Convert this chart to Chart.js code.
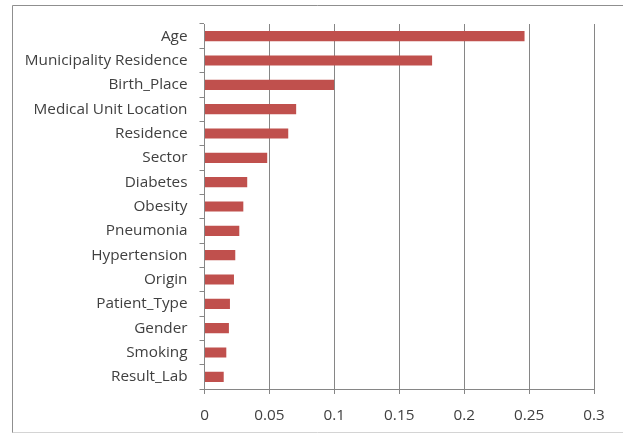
<!DOCTYPE html>
<html>
<head>
<meta charset="utf-8">
<script src="https://cdn.jsdelivr.net/npm/chart.js@4/dist/chart.umd.min.js"></script>
<style>
  html, body { margin: 0; padding: 0; background: #fff; }
  canvas { display: block; }
</style>
</head>
<body>
<canvas id="importanceChart" width="623" height="434"></canvas>
<script>
// feature names, top to bottom
var featureNames = [
    "Age", "Municipality Residence", "Birth_Place", "Medical Unit Location",
    "Residence", "Sector", "Diabetes", "Obesity", "Pneumonia", "Hypertension",
    "Origin", "Patient_Type", "Gender", "Smoking", "Result_Lab"
];

// importance score per feature
var importanceValues = [
    0.2465, 0.1753, 0.0998, 0.0706, 0.0645, 0.0483, 0.0329, 0.0299,
    0.0268, 0.0237, 0.0227, 0.0196, 0.0188, 0.0168, 0.0148
];

// x axis range
var xMin = 0;
var xMax = 0.3;
var xStep = 0.05;

var axisGray = "#868686";
var labelColor = "#404040";
var labelFont = { family: "'Open Sans'", size: 15.3 };

// outer frame around the chart
var framePlugin = {
    id: "frame",
    beforeDraw: function (chart) {
        var ctx = chart.ctx;
        ctx.save();
        ctx.lineWidth = 1;
        ctx.strokeStyle = "#8f8f8f";
        ctx.beginPath();
        ctx.moveTo(12.5, 433);
        ctx.lineTo(12.5, 5.5);
        ctx.lineTo(623, 5.5);
        ctx.stroke();
        ctx.strokeStyle = "#d4d4d4";
        ctx.beginPath();
        ctx.moveTo(12.5, 432.5);
        ctx.lineTo(623, 432.5);
        ctx.stroke();
        ctx.restore();
    }
};

var ctx = document.getElementById("importanceChart").getContext("2d");
new Chart(ctx, {
    type: "bar",
    data: {
        labels: featureNames,
        datasets: [{
            data: importanceValues,
            backgroundColor: "#C0504D",
            borderWidth: 0,
            barPercentage: 0.42,
            categoryPercentage: 1
        }]
    },
    options: {
        indexAxis: "y",
        responsive: false,
        animation: false,
        layout: { padding: { left: 0, right: 29, top: 24, bottom: 0 } },
        plugins: {
            legend: { display: false },
            tooltip: { enabled: false }
        },
        scales: {
            x: {
                min: xMin,
                max: xMax,
                afterFit: function (scale) { scale.height = 45; },
                ticks: {
                    stepSize: xStep,
                    color: labelColor,
                    font: labelFont,
                    padding: 12,
                    callback: function (v) { return +v.toFixed(2); }
                },
                grid: { color: axisGray, lineWidth: 1, tickLength: 5 },
                border: { color: axisGray }
            },
            y: {
                afterFit: function (scale) { scale.width = 204.5; },
                ticks: {
                    color: labelColor,
                    font: labelFont,
                    padding: 12
                },
                grid: { drawOnChartArea: false, color: axisGray, tickLength: 5, offset: true },
                border: { color: axisGray }
            }
        }
    },
    plugins: [framePlugin]
});
</script>
</body>
</html>
